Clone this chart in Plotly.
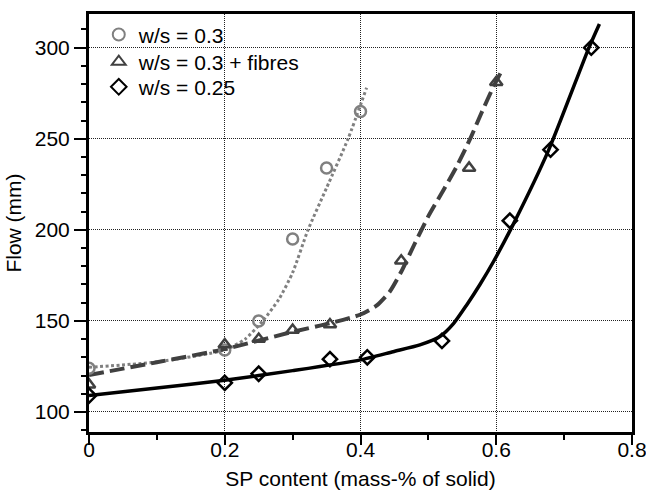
import plotly.graph_objects as go

# Measured flow values
sp_ws30 = [0, 0.2, 0.25, 0.3, 0.35, 0.4]
flow_ws30 = [124, 134, 150, 195, 234, 265]

sp_fib = [0, 0.2, 0.25, 0.3, 0.355, 0.46, 0.56, 0.6]
flow_fib = [115, 137, 140, 145, 148, 183, 234, 281]

sp_ws25 = [0, 0.2, 0.25, 0.355, 0.41, 0.52, 0.62, 0.68, 0.74]
flow_ws25 = [109, 116, 121, 129, 130, 139, 205, 244, 300]

# Fitted trend curves
fit_x_ws30 = [0, 0.1, 0.2, 0.23, 0.256, 0.28, 0.3, 0.3227, 0.35, 0.3817, 0.409]
fit_y_ws30 = [124.5, 127.5, 134, 140, 150, 162, 176.5, 200, 223, 250, 278]

fit_x_fib = [0, 0.1, 0.2, 0.3, 0.355, 0.4, 0.424, 0.443, 0.46, 0.48, 0.5,
             0.524, 0.542, 0.561, 0.578, 0.596, 0.609]
fit_y_fib = [120.3, 127.3, 134.5, 144, 148.7, 153.5, 158.5, 166, 177, 192.5, 207.5,
             223, 235, 249.5, 264, 278.7, 288]

fit_x_ws25 = [0, 0.1, 0.2, 0.3, 0.4, 0.448, 0.4875, 0.517, 0.537, 0.556, 0.576,
              0.596, 0.625, 0.677, 0.736, 0.752]
fit_y_ws25 = [109, 113.2, 117.4, 122.7, 128.6, 133.1, 136.8, 141.4, 148.5, 158.5, 170,
              182.6, 203, 243.6, 299.5, 313]

labels = ["w/s = 0.3", "w/s = 0.3 + fibres", "w/s = 0.25"]

GREY = "#808080"
DARK = "#404040"
BLACK = "#000000"
FONT = "Liberation Sans, Arial, Helvetica, sans-serif"

fig = go.Figure()

# trend curves (no legend entries)
fig.add_trace(go.Scatter(x=fit_x_ws30, y=fit_y_ws30, mode="lines", showlegend=False,
                         line=dict(color=GREY, width=3, dash="3px,2.5px", shape="spline", smoothing=0.6),
                         hoverinfo="skip"))
fig.add_trace(go.Scatter(x=fit_x_fib, y=fit_y_fib, mode="lines", showlegend=False,
                         line=dict(color=DARK, width=4, dash="15px,6px", shape="spline", smoothing=0.6),
                         hoverinfo="skip"))
fig.add_trace(go.Scatter(x=fit_x_ws25, y=fit_y_ws25, mode="lines", showlegend=False,
                         line=dict(color=BLACK, width=3.5, shape="spline", smoothing=0.6),
                         hoverinfo="skip"))

# measured points, each with its own legend row
fig.add_trace(go.Scatter(x=sp_ws30, y=flow_ws30, mode="markers", name=labels[0], legend="legend",
                         marker=dict(symbol="circle-open", size=11, color=GREY,
                                     line=dict(width=2.5, color=GREY))))
fig.add_trace(go.Scatter(x=sp_fib, y=flow_fib, mode="markers", name=labels[1], legend="legend2",
                         marker=dict(symbol="triangle-up-open", size=11, color=DARK,
                                     line=dict(width=2.5, color=DARK))))
fig.add_trace(go.Scatter(x=sp_ws25, y=flow_ws25, mode="markers", name=labels[2], legend="legend3",
                         marker=dict(symbol="diamond-open", size=11, color=BLACK,
                                     line=dict(width=2.5, color=BLACK))))

axis_common = dict(
    showline=True, linewidth=3, linecolor="black", mirror=True,
    ticks="outside", tickcolor="black", tickwidth=2,
    showgrid=True, gridcolor="#222222", gridwidth=1, griddash="1px,1px",
    zeroline=False, automargin=False, ticklabeloverflow="allow",
    tickfont=dict(family=FONT, size=21, color="black"),
)

fig.update_xaxes(
    range=[0, 0.8], tickvals=[0, 0.2, 0.4, 0.6, 0.8], ticktext=["0", "0.2", "0.4", "0.6", "0.8"],
    ticklen=10, ticklabelstandoff=-13,
    minor=dict(tickvals=[0.1, 0.3, 0.5, 0.7], ticklen=5, tickwidth=2, tickcolor="black",
               ticks="outside", showgrid=False),
    title=dict(text="SP content (mass-% of solid)", font=dict(family=FONT, size=21, color="black"),
               standoff=12),
    **axis_common,
)
fig.update_yaxes(
    range=[89, 318.5], tickvals=[100, 150, 200, 250, 300],
    ticklen=12,
    minor=dict(dtick=10, tick0=0, ticklen=5, tickwidth=2, tickcolor="black",
               ticks="outside", showgrid=False),
    title=dict(text="Flow (mm)", font=dict(family=FONT, size=21, color="black"), standoff=8),
    **axis_common,
)

legend_style = dict(x=0.018, xanchor="left", yanchor="middle",
                    bgcolor="rgba(255,255,255,0)", borderwidth=0,
                    font=dict(family=FONT, size=21, color="black"),
                    itemsizing="constant")

fig.update_layout(
    width=646, height=499,
    margin=dict(l=89, r=14, t=14, b=67),
    paper_bgcolor="white", plot_bgcolor="white",
    font=dict(family=FONT, size=21, color="black"),
    legend=dict(y=0.950, **legend_style),
    legend2=dict(y=0.885, **legend_style),
    legend3=dict(y=0.825, **legend_style),
    showlegend=True,
)

fig.write_html("out.html")
